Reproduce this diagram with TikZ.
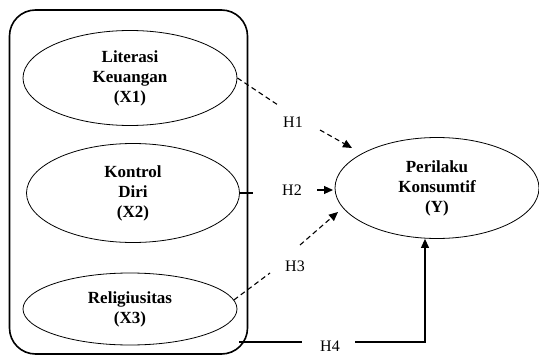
\documentclass[tikz,border=0pt]{standalone}
\usepackage{fontspec}
\setmainfont{Liberation Serif}
\usetikzlibrary{shapes.geometric,arrows.meta}
\tikzset{
  var/.style={ellipse,draw,line width=0.8pt,inner sep=0pt,align=center,font=\bfseries\fontsize{17}{20}\selectfont},
  hlab/.style={font=\fontsize{16}{18}\selectfont,inner sep=1pt},
  link/.style={line width=1.1pt},
  dashlink/.style={line width=1.1pt,dash pattern=on 5pt off 3.5pt},
  tip/.style={-{Triangle[length=9pt,width=8pt]}}
}
\begin{document}
\begin{tikzpicture}[x=1pt,y=-1pt]
\useasboundingbox (0,0) rectangle (539,356);
\node[draw,line width=1.6pt,rounded corners=26pt,minimum width=238pt,minimum height=344pt,inner sep=0pt] (box) at (128.5,182) {};
\node[var,minimum width=214pt,minimum height=95pt] (x1) at (130,78) {Literasi\\Keuangan\\(X1)};
\node[var,minimum width=213pt,minimum height=99pt] (x2) at (133,193) {Kontrol\\Diri\\(X2)};
\node[var,minimum width=214pt,minimum height=72pt] (x3) at (130,309) {Religiusitas\\(X3)};
\node[var,minimum width=204pt,minimum height=101pt] (y) at (437,188) {Perilaku\\Konsumtif\\(Y)};
% labels
\node[hlab] (h1) at (293,122) {H1};
\node[hlab] (h2) at (292,190) {H2};
\node[hlab] (h3) at (295,266) {H3};
\node[hlab] (h4) at (330,346) {H4};
% helper coordinates
\coordinate (h1a) at (278,105);
\coordinate (h1b) at (320,130);
\coordinate (h1t) at (352,148);
\coordinate (h2a) at (253,193);
\coordinate (h2b) at (317,190);
\coordinate (h2t) at (333,190);
\coordinate (h3a) at (270,273);
\coordinate (h3b) at (300,245);
\coordinate (h3t) at (338,212);
\coordinate (h4s) at (239,342);
\coordinate (h4a) at (302,342);
\coordinate (h4b) at (355,342);
\coordinate (h4c) at (425,342);
% connectors
\draw[dashlink] (x1.east) -- (h1a);
\draw[dashlink,tip] (h1b) -- (h1t);
\draw[link] (x2.east) -- (h2a);
\draw[link,tip] (h2b) -- (h2t);
\draw[dashlink] (x3.5) -- (h3a);
\draw[dashlink,tip] (h3b) -- (h3t);
\draw[link] (h4s) -- (h4a);
\draw[link,tip] (h4b) -- (h4c) -- (h4c |- y.south);
\end{tikzpicture}
\end{document}
